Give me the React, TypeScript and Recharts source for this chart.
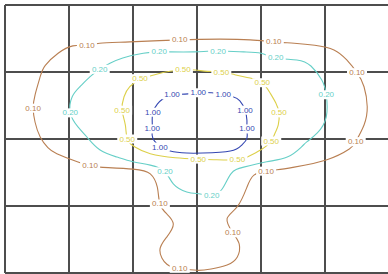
import React from "react"
import { ScatterChart, Scatter, XAxis, YAxis, ReferenceLine } from "recharts"

// grid cell boundaries (plot units)
const gridX = [0, 1, 2, 3, 4, 5, 6]
const gridY = [0, 1, 2, 3, 4]

const levels = ["0.10", "0.20", "0.50", "1.00"]
const levelColors = ["#b97f52", "#66cfc7", "#ddd04a", "#3447b2"]

// contour paths, [x, y] with y counted downward from the top
const contour010: [number, number][] = [
  [2.73, 3.93], [3.0, 3.96], [3.22, 3.94], [3.47, 3.88], [3.63, 3.76], [3.66, 3.57], [3.56, 3.4],
  [3.47, 3.19], [3.63, 3.01], [3.78, 2.72], [3.89, 2.54], [4.08, 2.48], [4.25, 2.46], [4.52, 2.42],
  [5.03, 2.31], [5.38, 2.15], [5.48, 2.04], [5.61, 1.79], [5.66, 1.52], [5.61, 1.22], [5.5, 1.01],
  [5.34, 0.82], [5.14, 0.67], [4.84, 0.6], [4.52, 0.57], [4.2, 0.55], [3.83, 0.52], [3.36, 0.51],
  [2.73, 0.52], [1.95, 0.55], [1.48, 0.57], [1.28, 0.6], [1.06, 0.61], [0.83, 0.72], [0.63, 0.9],
  [0.55, 1.07], [0.47, 1.34], [0.44, 1.54], [0.47, 1.75], [0.55, 1.97], [0.67, 2.13], [0.81, 2.22],
  [1.13, 2.34], [1.33, 2.4], [1.48, 2.42], [2.0, 2.45], [2.27, 2.52], [2.38, 2.72], [2.42, 2.97],
  [2.53, 3.12], [2.63, 3.27], [2.53, 3.46], [2.42, 3.66], [2.53, 3.87], [2.73, 3.93],
]
const contour020: [number, number][] = [
  [2.41, 0.7], [2.53, 0.7], [2.95, 0.7], [3.16, 0.69], [3.33, 0.69], [3.47, 0.69], [3.73, 0.7],
  [4.0, 0.72], [4.23, 0.79], [4.56, 0.82], [4.78, 0.91], [4.95, 1.12], [5.02, 1.34], [5.02, 1.67],
  [4.88, 1.91], [4.72, 2.04], [4.63, 2.12], [4.41, 2.27], [4.09, 2.34], [3.73, 2.42], [3.53, 2.52],
  [3.39, 2.75], [3.23, 2.84], [3.05, 2.82], [2.84, 2.79], [2.63, 2.67], [2.5, 2.49], [2.27, 2.39],
  [2.0, 2.34], [1.75, 2.27], [1.48, 2.16], [1.28, 1.97], [1.14, 1.82], [1.02, 1.61], [1.05, 1.37],
  [1.17, 1.22], [1.33, 1.07], [1.48, 0.96], [1.64, 0.87], [1.84, 0.79], [2.16, 0.72], [2.41, 0.7],
]
const contour050: [number, number][] = [
  [2.11, 1.1], [2.34, 1.04], [2.58, 0.99], [2.78, 0.97], [2.97, 0.97], [3.16, 0.99], [3.38, 1.0],
  [3.59, 1.04], [3.83, 1.09], [4.02, 1.16], [4.14, 1.31], [4.23, 1.46], [4.28, 1.61], [4.27, 1.79],
  [4.22, 1.91], [4.16, 2.03], [4.0, 2.16], [3.78, 2.27], [3.63, 2.31], [3.31, 2.31], [3.02, 2.3],
  [2.66, 2.28], [2.27, 2.22], [2.03, 2.12], [1.91, 2.0], [1.88, 1.79], [1.83, 1.57], [1.86, 1.37],
  [1.95, 1.22], [2.11, 1.1],
]
const contour100: [number, number][] = [
  [2.42, 2.12], [2.58, 2.18], [2.84, 2.21], [3.09, 2.21], [3.52, 2.18], [3.7, 2.09], [3.78, 1.99],
  [3.78, 1.85], [3.78, 1.72], [3.75, 1.57], [3.67, 1.43], [3.56, 1.37], [3.41, 1.34], [3.23, 1.31],
  [3.02, 1.31], [2.81, 1.33], [2.61, 1.34], [2.47, 1.4], [2.38, 1.48], [2.31, 1.6], [2.3, 1.72],
  [2.3, 1.85], [2.31, 1.99], [2.42, 2.12],
]

// inline label positions per level
const labels010: [number, number][] = [
  [2.73, 3.93], [3.56, 3.4], [4.08, 2.48], [5.48, 2.04], [5.5, 1.01], [4.2, 0.55],
  [2.73, 0.52], [1.28, 0.6], [0.44, 1.54], [1.33, 2.4], [2.42, 2.97],
]
const labels020: [number, number][] = [
  [2.41, 0.7], [3.33, 0.69], [4.23, 0.79], [5.02, 1.34], [3.23, 2.84], [2.5, 2.49], [1.02, 1.61], [1.48, 0.96],
]
const labels050: [number, number][] = [
  [2.11, 1.1], [2.78, 0.97], [3.38, 1.0], [4.02, 1.16], [4.28, 1.61], [4.16, 2.03],
  [3.63, 2.31], [3.02, 2.3], [1.91, 2.0], [1.83, 1.57],
]
const labels100: [number, number][] = [
  [2.42, 2.12], [3.78, 1.85], [3.75, 1.57], [3.41, 1.34], [3.02, 1.31], [2.61, 1.34], [2.31, 1.6], [2.3, 1.85],
]

const contours = [contour010, contour020, contour050, contour100]
const labelSets = [labels010, labels020, labels050, labels100]

const toPoints = (pts: [number, number][]) => pts.map(([x, y]) => ({ x, y }))

const noDot = () => <g />

function makeLabelShape(text: string, color: string) {
  return (props: any) => {
    const { cx, cy } = props
    return (
      <g>
        <rect x={cx - 10} y={cy - 4.5} width={20} height={9} fill="#fff" />
        <text
          x={cx}
          y={cy}
          textAnchor="middle"
          dominantBaseline="central"
          fontSize={8}
          fontFamily="Liberation Sans, Arial, sans-serif"
          fill={color}
        >
          {text}
        </text>
      </g>
    )
  }
}

export default function App() {
  return (
    <div style={{ position: "absolute", left: 0, top: 0, width: 388, height: 274, overflow: "hidden", background: "#fff" }}>
      <ScatterChart width={390} height={274} margin={{ top: 5, right: 1, bottom: 1, left: 5 }}>
        <XAxis type="number" dataKey="x" domain={[0, 6]} hide allowDataOverflow />
        <YAxis type="number" dataKey="y" domain={[0, 4]} reversed hide allowDataOverflow />
        {contours.map((c, i) => (
          <Scatter
            key={`c-${i}`}
            data={toPoints(c)}
            line={{ stroke: levelColors[i], strokeWidth: 1.1 }}
            lineJointType="natural"
            shape={noDot}
            isAnimationActive={false}
          />
        ))}
        {labelSets.map((l, i) => (
          <Scatter
            key={`l-${i}`}
            data={toPoints(l)}
            shape={makeLabelShape(levels[i], levelColors[i])}
            isAnimationActive={false}
          />
        ))}
        {gridX.map((x) => (
          <ReferenceLine key={`gx-${x}`} x={x} stroke="#4d4d4d" strokeWidth={2} />
        ))}
        {gridY.map((y) => (
          <ReferenceLine key={`gy-${y}`} y={y} stroke="#4d4d4d" strokeWidth={2} />
        ))}
      </ScatterChart>
    </div>
  )
}
